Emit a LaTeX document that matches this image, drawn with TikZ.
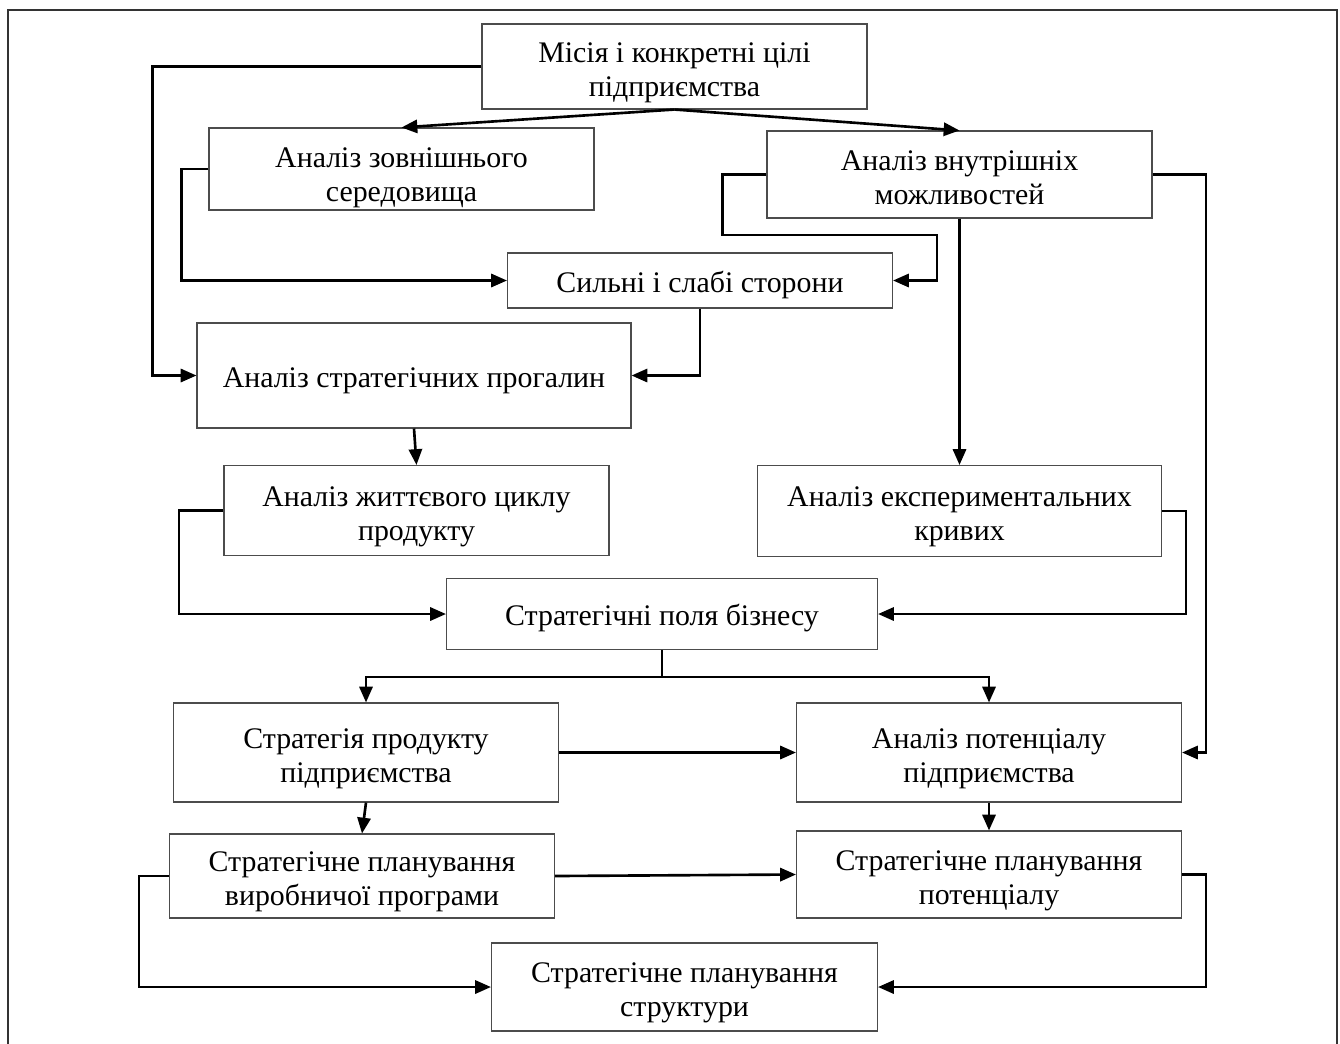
\documentclass[tikz,border=0pt]{standalone}
\usepackage{fontspec}
\setmainfont{Liberation Serif}
\usetikzlibrary{positioning,arrows.meta}

\tikzset{
	blk/.style={draw=black!70, line width=0.6pt, minimum width=7.7cm, inner sep=0pt, align=center, font=\fontsize{17}{19.4}\selectfont, text height=38pt, text depth=4pt},
	oneline/.style={text height=17.5pt},
	link/.style={line width=1.5pt, -{Triangle[length=9pt,width=7.5pt]}},
	wire/.style={line width=1.5pt}
}

\begin{document}
\begin{tikzpicture}[on grid]
	\useasboundingbox (0,0) rectangle (26.8,-20.86);
	\draw[line width=1.2pt, black!80] (0.16,-21) -- (0.16,-0.2) -- (26.74,-0.2) -- (26.74,-21);

	\node[blk, minimum height=1.7cm] (misia) at (13.49,-1.33) {Місія і конкретні цілі\\підприємства};
	\node[blk, minimum height=1.64cm, below left=2.05cm and 5.46cm of misia, text height=41pt] (zovn) {Аналіз зовнішнього\\середовища};
	\node[blk, minimum height=1.74cm, below right=2.16cm and 5.70cm of misia] (vnutr) {Аналіз внутрішніх\\можливостей};
	\node[blk, oneline, minimum height=1.1cm, below right=4.28cm and 0.51cm of misia] (syl) {Сильні і слабі сторони};
	\node[blk, oneline, minimum width=8.68cm, minimum height=2.1cm, below right=4.13cm and 0.25cm of zovn] (prog) {Аналіз стратегічних прогалин};
	\node[blk, minimum height=1.8cm, below right=2.7cm and 0.05cm of prog] (zhytt) {Аналіз життєвого циклу\\продукту};
	\node[blk, minimum width=8.08cm, minimum height=1.82cm, below=6.73cm of vnutr] (eksp) {Аналіз експериментальних\\кривих};
	\node[blk, oneline, minimum width=8.62cm, minimum height=1.42cm, below left=10.95cm and 0.25cm of misia] (polia) {Стратегічні поля бізнесу};
	\node[blk, minimum height=1.98cm, below left=2.77cm and 5.92cm of polia] (strat) {Стратегія продукту\\підприємства};
	\node[blk, minimum height=1.98cm, below right=2.77cm and 6.54cm of polia] (potenc) {Аналіз потенціалу\\підприємства};
	\node[blk, minimum height=1.68cm, below left=2.47cm and 0.08cm of strat] (planvyr) {Стратегічне планування\\виробничої програми};
	\node[blk, minimum height=1.74cm, below=2.44cm of potenc] (planpot) {Стратегічне планування\\потенціалу};
	\node[blk, minimum width=7.72cm, minimum height=1.76cm, below right=7.46cm and 0.45cm of polia] (strukt) {Стратегічне планування\\структури};

	\draw[link] (misia.south) -- (zovn.north);
	\draw[link] (misia.south) -- (vnutr.north);
	\draw[link] (misia.west) -| ([xshift=-0.88cm]prog.west) -- (prog.west);
	\draw[link] (zovn.west) -- ++(-0.54,0) |- (syl.west);
	\draw[link] (vnutr.west) -- ++(-0.88,0) |- ([xshift=0.88cm,yshift=0.91cm]syl.east) |- (syl.east);
	\draw[link] (syl.south) |- (prog.east);
	\draw[link] (prog.south) -- (zhytt.north);
	\draw[link] (vnutr.south) -- (eksp.north);
	\draw[link] (vnutr.east) -- ++(1.07,0) |- (potenc.east);
	\draw[link] (zhytt.west) -- ++(-0.89,0) |- (polia.west);
	\draw[link] (eksp.east) -- ++(0.48,0) |- (polia.east);
	\draw[wire] (polia.south) -- ++(0,-0.54) coordinate (split);
	\draw[link] (split) -| (strat.north);
	\draw[link] (split) -| (potenc.north);
	\draw[link] (strat.east) -- (potenc.west);
	\draw[link] (strat.south) -- (planvyr.north);
	\draw[link] (potenc.south) -- (planpot.north);
	\draw[link] (planvyr.east) -- (planpot.west);
	\draw[link] (planvyr.west) -- ++(-0.6,0) |- (strukt.west);
	\draw[link] (planpot.east) -- ++(0.48,0) |- (strukt.east);
\end{tikzpicture}
\end{document}
